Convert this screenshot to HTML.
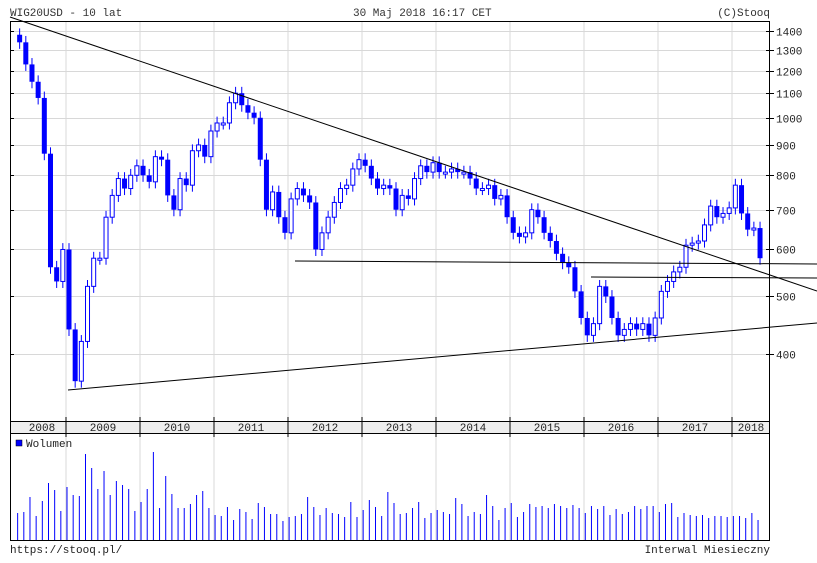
<!DOCTYPE html>
<html><head><meta charset="utf-8"><style>
body{margin:0;background:#fff;}
svg{display:block;font-family:"Liberation Mono",monospace;}
</style></head><body>
<svg id="s" width="817" height="563" xmlns="http://www.w3.org/2000/svg"></svg>
<script>
var s=document.getElementById('s'),o='';
function Y(p){return 354-257.8*Math.log(p/400);}
o+='<rect x="0" y="0" width="817" height="563" fill="#fff"/>';
var yrs=[66,140,214,288,362,436,510,584,658,732];
yrs.forEach(function(x){o+='<line x1="'+x+'" y1="21" x2="'+x+'" y2="421" stroke="#d8d8d8"/><line x1="'+x+'" y1="433" x2="'+x+'" y2="540" stroke="#d8d8d8"/>';});
[1400,1300,1200,1100,1000,900,800,700,600,500,400].forEach(function(p){var y=Math.round(Y(p))+.5;o+='<line x1="10" y1="'+y+'" x2="770" y2="'+y+'" stroke="#d8d8d8"/><line x1="10" y1="'+y+'" x2="14" y2="'+y+'" stroke="#000"/><line x1="766" y1="'+y+'" x2="774" y2="'+y+'" stroke="#000"/><text x="776" y="'+(y+4)+'" font-size="11" fill="#222">'+p+'</text>';});
var c=[1340,1230,1150,1080,870,560,530,600,
440,360,420,520,580,580,680,740,790,760,800,830,
800,780,860,850,740,700,790,770,880,900,860,950,
980,980,1060,1100,1050,1020,1000,850,700,750,680,640,
730,760,740,720,600,640,680,720,760,770,820,850,
830,790,760,770,760,700,740,730,790,830,810,840,
810,810,820,810,810,790,760,760,770,730,740,680,
640,630,640,700,680,640,620,590,570,560,510,460,
430,450,520,500,460,430,440,450,440,450,430,460,
510,530,550,560,610,615,620,660,710,680,690,705,
770,690,648,652,580];
var prev=1380,vol='';
var vh=[27,28,43,24,39,57,50,29,53,45,44,86,72,51,69,45,59,55,51,29,38,51,88,32,64,46,32,32,36,45,49,32,25,24,33,20,31,28,21,37,33,26,26,19,23,24,26,43,33,25,32,27,26,23,38,23,30,40,33,24,48,37,26,27,32,38,22,27,30,28,26,42,36,24,28,26,45,34,20,32,37,23,28,36,33,34,32,36,34,32,35,32,27,34,31,34,25,31,26,28,34,31,34,34,28,36,37,23,27,25,24,25,22,24,24,23,24,24,22,27,20,31,24,25];
for(var i=0;i<c.length;i++){
 var x=66+(i-8)*6.17+3,op=prev,cl=c[i];prev=cl;
 var hi=Math.max(op,cl)*1.025,lo=Math.min(op,cl)*0.975;
 var y1=Y(Math.max(op,cl)),y2=Y(Math.min(op,cl));if(y2-y1<2)y2=y1+2;
 o+='<line x1="'+x+'" y1="'+Y(hi)+'" x2="'+x+'" y2="'+Y(lo)+'" stroke="#00f"/>';
 if(cl<op)o+='<rect x="'+(x-2.5)+'" y="'+y1+'" width="5" height="'+(y2-y1)+'" fill="#00f"/>';
 else o+='<rect x="'+(x-2)+'" y="'+y1+'" width="4" height="'+(y2-y1)+'" fill="#fff" stroke="#00f"/>';
 var h=vh[i]||25;
 vol+='<line x1="'+(x-2)+'" y1="540" x2="'+(x-2)+'" y2="'+(540-h)+'" stroke="#00f"/>';
}
o+=vol;
o+='<line x1="10" y1="17" x2="817" y2="291" stroke="#000"/>';
o+='<line x1="68" y1="390" x2="817" y2="323" stroke="#000"/>';
o+='<line x1="295" y1="261" x2="817" y2="264" stroke="#000"/>';
o+='<line x1="591" y1="277" x2="817" y2="278" stroke="#000"/>';
o+='<rect x="0" y="421" width="817" height="12" fill="#fff"/><rect x="10.5" y="421.5" width="759" height="12" fill="#eee" stroke="#000"/>';
o+='<rect x="10.5" y="21.5" width="759" height="519" fill="none" stroke="#000"/>';
yrs.forEach(function(x){o+='<line x1="'+x+'" y1="417" x2="'+x+'" y2="437" stroke="#000"/>';});
var yl=[['2008',42],['2009',103],['2010',177],['2011',251],['2012',325],['2013',399],['2014',473],['2015',547],['2016',621],['2017',695],['2018',751]];
yl.forEach(function(a){o+='<text x="'+a[1]+'" y="431" font-size="11" text-anchor="middle" fill="#222">'+a[0]+'</text>';});
o+='<rect x="16" y="440" width="6" height="6" fill="#00f" stroke="#000" stroke-width=".5"/><text x="26" y="447" font-size="11" fill="#222">Wolumen</text>';
o+='<text x="10" y="16" font-size="11" fill="#333">WIG20USD - 10 lat</text>';
o+='<text x="353" y="16" font-size="11" fill="#333">30 Maj 2018 16:17 CET</text>';
o+='<text x="770" y="16" font-size="11" text-anchor="end" fill="#333">(C)Stooq</text>';
o+='<text x="10" y="553" font-size="11" fill="#222">https://stooq.pl/</text>';
o+='<text x="770" y="553" font-size="11" text-anchor="end" fill="#222">Interwal Miesieczny</text>';
s.innerHTML=o;
</script>
</body></html>
